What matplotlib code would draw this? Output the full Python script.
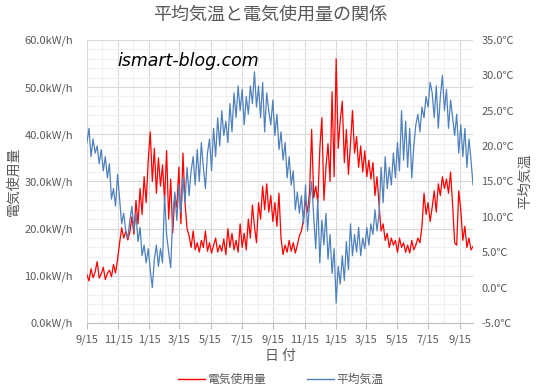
# electricity use vs average temperature

import matplotlib
matplotlib.use('Agg')
import matplotlib.pyplot as plt
import matplotlib.dates as mdates
from matplotlib.lines import Line2D
from matplotlib.ticker import MultipleLocator, FuncFormatter
import pandas as pd

plt.rcParams['font.family'] = ['Noto Sans CJK JP', 'DejaVu Sans']

# one sample every 4 days
start_date = '2017-09-15'
step = '4D'

power_kwh = [
    10.2, 8.9, 11.5, 9.6, 10.8, 13.0, 9.5, 10.4, 11.8, 9.2,
    10.5, 11.2, 9.8, 12.4, 10.6, 13.5, 17.0, 20.2, 18.0, 19.4,
    17.6, 19.2, 22.5, 18.8, 26.0, 21.0, 28.5, 23.0, 31.0, 25.5,
    34.5, 40.5, 30.0, 37.0, 27.5, 35.0, 29.0, 33.5, 26.0, 36.5,
    22.0, 30.5, 19.0, 27.0, 24.5, 33.0, 21.0, 36.0, 25.5, 20.0,
    18.5, 16.0, 19.5, 15.5, 17.0, 15.0, 17.5, 16.0, 19.5, 15.2,
    17.0, 14.8, 16.5, 18.0, 15.0, 16.5, 15.2, 17.8, 14.5, 20.0,
    16.0, 19.0, 15.5, 17.5, 15.0, 21.0, 16.0, 19.0, 15.5, 22.0,
    18.0, 25.0, 20.5, 17.0, 25.5, 22.0, 29.0, 24.0, 29.5, 23.5,
    27.0, 21.5, 25.5, 20.5, 27.5, 18.0, 14.5, 16.5, 15.0, 17.5,
    15.2, 17.0, 14.8, 16.5, 18.5, 19.5, 22.0, 26.0, 23.5, 28.0,
    41.0, 26.5, 29.0, 25.5, 37.0, 43.5, 26.0, 33.0, 38.0, 30.0,
    49.0, 31.0, 56.0, 37.0, 43.0, 47.0, 34.0, 41.0, 31.5, 38.0,
    45.0, 36.0, 39.5, 33.0, 37.5, 32.0, 36.5, 31.0, 34.5, 30.5,
    34.0, 27.0, 31.0, 25.0, 19.5, 21.0, 17.5, 19.0, 16.0, 18.0,
    16.5, 17.5, 15.0, 18.0, 16.0, 17.0, 15.0, 16.5, 14.8, 17.5,
    15.5, 16.5, 18.0, 17.0, 20.5, 27.5, 23.0, 25.5, 21.5, 24.5,
    28.0, 23.5, 29.5, 27.0, 31.0, 28.5, 30.5, 27.5, 32.0, 25.0,
    17.0, 16.5, 28.0, 24.0, 17.5, 20.5, 16.0, 18.0, 15.5, 16.2,
]

temp_c = [
    20.5, 22.5, 18.5, 21.0, 19.0, 20.0, 17.5, 19.5, 16.5, 18.5,
    15.5, 17.5, 12.5, 14.0, 11.5, 16.0, 12.5, 9.0, 10.5, 8.0,
    7.0, 9.5, 11.5, 8.0, 10.5, 6.5, 8.5, 4.5, 6.0, 3.5,
    5.5, 2.5, 0.0, 4.0, 6.0, 3.0, 5.5, 3.5, 13.0, 7.5,
    5.0, 2.8, 10.0, 13.5, 9.5, 14.5, 10.5, 15.5, 12.0, 17.0,
    13.0, 16.5, 18.5, 14.5, 19.5, 15.0, 20.5, 17.0, 14.0, 19.0,
    21.0, 16.5, 22.5, 18.5, 24.0, 20.0, 25.0, 21.5, 23.5, 20.5,
    26.0, 22.0, 27.5, 24.0, 28.5, 25.0, 28.0, 23.0, 27.0, 24.5,
    28.5, 26.0, 30.5, 25.5, 28.5, 24.0, 29.0, 22.0, 27.5, 25.0,
    23.0, 26.5, 21.5, 24.5, 19.5, 22.0, 18.0, 20.5, 15.5, 18.5,
    14.5, 16.5, 11.0, 13.5, 10.5, 13.0, 9.0, 14.5, 8.0, 12.0,
    15.0, 10.0, 5.5, 12.5, 3.5, 9.5, 6.0, 10.5, 4.0, 7.5,
    2.0, 5.5, -2.2, 3.0, 0.5, 4.5, 1.0, 6.5, 2.5, 9.0,
    4.5, 7.5, 5.0, 8.5, 4.5, 7.0, 5.5, 8.5, 6.0, 9.0,
    7.5, 11.0, 8.0, 10.5, 17.0, 12.0, 18.5, 14.0, 17.0, 14.5,
    19.0, 15.5, 20.5, 16.5, 25.0, 18.0, 23.5, 17.0, 22.5, 15.5,
    20.0, 23.0, 24.5, 22.0, 25.5, 24.0, 27.0, 25.5, 29.0, 27.5,
    24.0, 28.5, 22.5, 27.0, 30.0, 25.0, 28.0, 22.5, 26.5, 24.0,
    21.5, 24.5, 19.0, 23.0, 18.5, 22.5, 17.0, 21.0, 18.0, 14.5,
]

power_label = '電気使用量'
temp_label = '平均気温'
title = '平均気温と電気使用量の関係'
x_label = '日 付'
watermark = 'ismart-blog.com'

gray_text = '#595959'
red = '#ff0000'
blue = '#4f81bd'


def month_day(x, pos=None):
    d = mdates.num2date(x)
    return f'{d.month}/{d.day}'


def main():
    dates = pd.date_range(start_date, periods=len(power_kwh), freq=step)

    fig = plt.figure(figsize=(5.4, 3.91), dpi=100)
    ax = fig.add_axes([0.161, 0.174, 0.715, 0.724])
    ax2 = ax.twinx()

    ax.plot(dates, power_kwh, color=red, lw=0.9)
    ax2.plot(dates, temp_c, color=blue, lw=0.9)

    ax.set_xlim(dates[0], dates[-1])
    ax.set_ylim(0, 60)
    ax2.set_ylim(-5, 35)

    # x axis: every 2 months on the 15th, minor grid monthly
    ax.xaxis.set_major_locator(mdates.MonthLocator(bymonth=[1, 3, 5, 7, 9, 11], bymonthday=15))
    ax.xaxis.set_minor_locator(mdates.MonthLocator(bymonthday=15))
    ax.xaxis.set_major_formatter(FuncFormatter(month_day))

    ax.yaxis.set_major_locator(MultipleLocator(10))
    ax.yaxis.set_minor_locator(MultipleLocator(2))
    ax.yaxis.set_major_formatter(FuncFormatter(lambda v, p: f'{v:.1f}kW/h'))
    ax2.yaxis.set_major_locator(MultipleLocator(5))
    ax2.yaxis.set_major_formatter(FuncFormatter(lambda v, p: f'{v:.1f}℃'))

    ax.grid(which='major', color='#d9d9d9', lw=0.8)
    ax.grid(which='minor', color='#f0f0f0', lw=0.8)
    ax.set_axisbelow(True)

    for a in (ax, ax2):
        for s in a.spines.values():
            s.set_visible(False)
    ax.spines['bottom'].set_visible(True)
    ax.spines['bottom'].set_color('#bfbfbf')

    ax.tick_params(axis='x', which='major', length=4, color='#bfbfbf',
                   labelsize=8, labelcolor=gray_text, pad=4)
    ax.tick_params(axis='x', which='minor', length=0)
    ax.tick_params(axis='y', which='both', length=0, labelsize=8,
                   labelcolor=gray_text, pad=10)
    ax2.tick_params(axis='y', length=0, labelsize=8, labelcolor=gray_text, pad=6)

    ax.set_ylabel(power_label, fontsize=10, color=gray_text, labelpad=3)
    ax2.set_ylabel(temp_label, fontsize=10, color=gray_text, rotation=90, labelpad=3)
    ax.set_xlabel(x_label, fontsize=10, color=gray_text, labelpad=3)

    fig.suptitle(title, fontsize=13, color=gray_text, y=0.985)

    ax.text(0.08, 0.925, watermark, transform=ax.transAxes, fontsize=12.5,
            style='italic', family='DejaVu Sans', color='black', va='center')

    handles = [Line2D([], [], color=red, lw=1.0), Line2D([], [], color=blue, lw=1.0)]
    leg = fig.legend(handles, [power_label, temp_label], loc='center',
                     bbox_to_anchor=(0.52, 0.03), ncol=2, frameon=False,
                     fontsize=8.5, handlelength=2.3, handletextpad=0.2,
                     columnspacing=3.5)
    for t in leg.get_texts():
        t.set_color(gray_text)

    fig.savefig('out.png', dpi=100)


if __name__ == '__main__':
    main()
